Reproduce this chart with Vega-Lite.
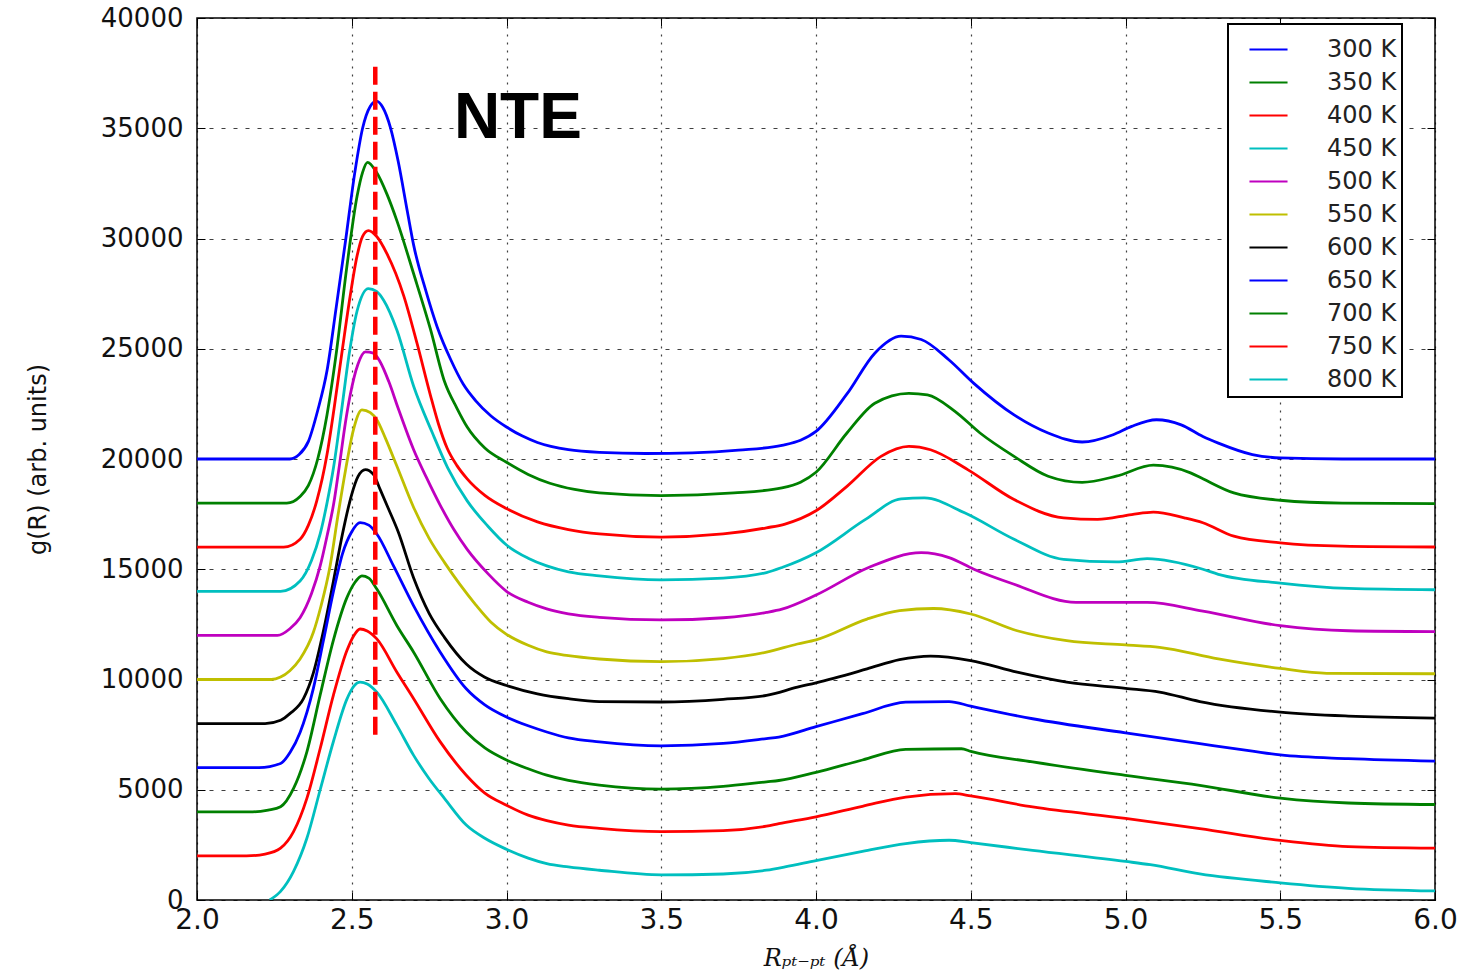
{
  "$schema": "https://vega.github.io/schema/vega-lite/v6.json",
  "width": 1238,
  "height": 882,
  "autosize": {"type": "none"},
  "padding": {"left": 197, "top": 18, "right": 32, "bottom": 77},
  "background": "white",
  "config": {
    "view": {"stroke": "black", "strokeWidth": 1.5},
    "font": "DejaVu Sans",
    "axis": {
      "labelFont": "DejaVu Sans",
      "labelFontSize": 26,
      "labelColor": "#111111",
      "labelFlush": false,
      "tickColor": "black",
      "tickSize": -8,
      "tickWidth": 1,
      "domain": false,
      "gridColor": "black",
      "gridOpacity": 0.75,
      "gridWidth": 1.2,
      "titleFontWeight": "normal",
      "titleColor": "#111111"
    },
    "legend": {
      "strokeColor": "black",
      "strokeWidth": 2,
      "fillColor": "white",
      "cornerRadius": 0
    }
  },
  "datasets": {
    "gr": [
      {"T":"300 K","R":2.0,"g":20000},{"T":"300 K","R":2.3,"g":20000},{"T":"300 K","R":2.33,"g":20200},{"T":"300 K","R":2.36,"g":20800},{"T":"300 K","R":2.39,"g":22200},{"T":"300 K","R":2.42,"g":24000},{"T":"300 K","R":2.45,"g":26900},{"T":"300 K","R":2.48,"g":29900},{"T":"300 K","R":2.51,"g":33000},{"T":"300 K","R":2.535,"g":35000},{"T":"300 K","R":2.56,"g":36000},{"T":"300 K","R":2.58,"g":36230},{"T":"300 K","R":2.6,"g":35950},{"T":"300 K","R":2.625,"g":35030},{"T":"300 K","R":2.65,"g":33500},{"T":"300 K","R":2.68,"g":31200},{"T":"300 K","R":2.7,"g":29700},{"T":"300 K","R":2.74,"g":27600},{"T":"300 K","R":2.776,"g":25990},{"T":"300 K","R":2.82,"g":24500},{"T":"300 K","R":2.86,"g":23400},{"T":"300 K","R":2.9,"g":22650},{"T":"300 K","R":2.95,"g":21950},{"T":"300 K","R":3.0,"g":21450},{"T":"300 K","R":3.05,"g":21050},{"T":"300 K","R":3.1,"g":20750},{"T":"300 K","R":3.2,"g":20420},{"T":"300 K","R":3.3,"g":20300},{"T":"300 K","R":3.45,"g":20250},{"T":"300 K","R":3.6,"g":20280},{"T":"300 K","R":3.75,"g":20400},{"T":"300 K","R":3.89,"g":20620},{"T":"300 K","R":3.95,"g":20850},{"T":"300 K","R":4.0,"g":21250},{"T":"300 K","R":4.1,"g":22950},{"T":"300 K","R":4.19,"g":24800},{"T":"300 K","R":4.275,"g":25570},{"T":"300 K","R":4.34,"g":25420},{"T":"300 K","R":4.43,"g":24490},{"T":"300 K","R":4.51,"g":23430},{"T":"300 K","R":4.64,"g":22000},{"T":"300 K","R":4.75,"g":21180},{"T":"300 K","R":4.86,"g":20770},{"T":"300 K","R":4.96,"g":21100},{"T":"300 K","R":5.02,"g":21480},{"T":"300 K","R":5.1,"g":21780},{"T":"300 K","R":5.18,"g":21550},{"T":"300 K","R":5.25,"g":21020},{"T":"300 K","R":5.3,"g":20720},{"T":"300 K","R":5.41,"g":20200},{"T":"300 K","R":5.5,"g":20050},{"T":"300 K","R":5.7,"g":20000},{"T":"300 K","R":6.0,"g":20000},

      {"T":"350 K","R":2.0,"g":18000},{"T":"350 K","R":2.29,"g":18000},{"T":"350 K","R":2.333,"g":18300},{"T":"350 K","R":2.36,"g":18800},{"T":"350 K","R":2.39,"g":20000},{"T":"350 K","R":2.42,"g":22000},{"T":"350 K","R":2.45,"g":24800},{"T":"350 K","R":2.484,"g":28700},{"T":"350 K","R":2.517,"g":31900},{"T":"350 K","R":2.535,"g":33000},{"T":"350 K","R":2.551,"g":33450},{"T":"350 K","R":2.58,"g":33000},{"T":"350 K","R":2.614,"g":32000},{"T":"350 K","R":2.646,"g":30800},{"T":"350 K","R":2.7,"g":28400},{"T":"350 K","R":2.754,"g":25900},{"T":"350 K","R":2.8,"g":23500},{"T":"350 K","R":2.84,"g":22300},{"T":"350 K","R":2.873,"g":21450},{"T":"350 K","R":2.93,"g":20500},{"T":"350 K","R":3.0,"g":19850},{"T":"350 K","R":3.07,"g":19300},{"T":"350 K","R":3.14,"g":18900},{"T":"350 K","R":3.22,"g":18620},{"T":"350 K","R":3.3,"g":18460},{"T":"350 K","R":3.5,"g":18340},{"T":"350 K","R":3.735,"g":18460},{"T":"350 K","R":3.89,"g":18690},{"T":"350 K","R":3.95,"g":18950},{"T":"350 K","R":4.0,"g":19400},{"T":"350 K","R":4.1,"g":21180},{"T":"350 K","R":4.19,"g":22530},{"T":"350 K","R":4.3,"g":22980},{"T":"350 K","R":4.36,"g":22910},{"T":"350 K","R":4.45,"g":22150},{"T":"350 K","R":4.53,"g":21180},{"T":"350 K","R":4.64,"g":20120},{"T":"350 K","R":4.75,"g":19220},{"T":"350 K","R":4.86,"g":18940},{"T":"350 K","R":4.97,"g":19220},{"T":"350 K","R":5.09,"g":19720},{"T":"350 K","R":5.21,"g":19370},{"T":"350 K","R":5.25,"g":19100},{"T":"350 K","R":5.35,"g":18460},{"T":"350 K","R":5.5,"g":18130},{"T":"350 K","R":5.7,"g":18000},{"T":"350 K","R":6.0,"g":17980},

      {"T":"400 K","R":2.0,"g":16000},{"T":"400 K","R":2.28,"g":16000},{"T":"400 K","R":2.333,"g":16360},{"T":"400 K","R":2.36,"g":17000},{"T":"400 K","R":2.387,"g":18100},{"T":"400 K","R":2.42,"g":20200},{"T":"400 K","R":2.443,"g":22300},{"T":"400 K","R":2.47,"g":25000},{"T":"400 K","R":2.495,"g":27400},{"T":"400 K","R":2.517,"g":29200},{"T":"400 K","R":2.535,"g":30100},{"T":"400 K","R":2.554,"g":30360},{"T":"400 K","R":2.58,"g":30100},{"T":"400 K","R":2.614,"g":29300},{"T":"400 K","R":2.668,"g":27400},{"T":"400 K","R":2.711,"g":25240},{"T":"400 K","R":2.754,"g":22900},{"T":"400 K","R":2.78,"g":21600},{"T":"400 K","R":2.808,"g":20500},{"T":"400 K","R":2.84,"g":19700},{"T":"400 K","R":2.873,"g":19100},{"T":"400 K","R":2.93,"g":18350},{"T":"400 K","R":3.0,"g":17750},{"T":"400 K","R":3.1,"g":17150},{"T":"400 K","R":3.2,"g":16800},{"T":"400 K","R":3.3,"g":16600},{"T":"400 K","R":3.5,"g":16460},{"T":"400 K","R":3.7,"g":16600},{"T":"400 K","R":3.84,"g":16880},{"T":"400 K","R":3.9,"g":17050},{"T":"400 K","R":4.0,"g":17650},{"T":"400 K","R":4.1,"g":18760},{"T":"400 K","R":4.21,"g":20120},{"T":"400 K","R":4.3,"g":20570},{"T":"400 K","R":4.37,"g":20420},{"T":"400 K","R":4.49,"g":19520},{"T":"400 K","R":4.64,"g":18160},{"T":"400 K","R":4.8,"g":17330},{"T":"400 K","R":4.91,"g":17260},{"T":"400 K","R":5.02,"g":17480},{"T":"400 K","R":5.09,"g":17590},{"T":"400 K","R":5.19,"g":17330},{"T":"400 K","R":5.25,"g":17110},{"T":"400 K","R":5.35,"g":16500},{"T":"400 K","R":5.5,"g":16200},{"T":"400 K","R":5.7,"g":16050},{"T":"400 K","R":6.0,"g":16010},

      {"T":"450 K","R":2.0,"g":14000},{"T":"450 K","R":2.27,"g":14000},{"T":"450 K","R":2.333,"g":14470},{"T":"450 K","R":2.37,"g":15400},{"T":"450 K","R":2.398,"g":16600},{"T":"450 K","R":2.42,"g":18000},{"T":"450 K","R":2.441,"g":19600},{"T":"450 K","R":2.468,"g":22300},{"T":"450 K","R":2.49,"g":24600},{"T":"450 K","R":2.517,"g":26700},{"T":"450 K","R":2.554,"g":27730},{"T":"450 K","R":2.58,"g":27600},{"T":"450 K","R":2.603,"g":27200},{"T":"450 K","R":2.646,"g":25840},{"T":"450 K","R":2.7,"g":23300},{"T":"450 K","R":2.76,"g":21200},{"T":"450 K","R":2.81,"g":19600},{"T":"450 K","R":2.873,"g":18100},{"T":"450 K","R":2.94,"g":16950},{"T":"450 K","R":3.0,"g":16100},{"T":"450 K","R":3.07,"g":15500},{"T":"450 K","R":3.13,"g":15150},{"T":"450 K","R":3.2,"g":14880},{"T":"450 K","R":3.3,"g":14700},{"T":"450 K","R":3.5,"g":14520},{"T":"450 K","R":3.7,"g":14600},{"T":"450 K","R":3.84,"g":14850},{"T":"450 K","R":3.89,"g":15080},{"T":"450 K","R":4.0,"g":15750},{"T":"450 K","R":4.16,"g":17260},{"T":"450 K","R":4.275,"g":18190},{"T":"450 K","R":4.35,"g":18240},{"T":"450 K","R":4.48,"g":17560},{"T":"450 K","R":4.64,"g":16360},{"T":"450 K","R":4.8,"g":15450},{"T":"450 K","R":4.97,"g":15330},{"T":"450 K","R":5.07,"g":15480},{"T":"450 K","R":5.25,"g":15000},{"T":"450 K","R":5.3,"g":14770},{"T":"450 K","R":5.5,"g":14370},{"T":"450 K","R":5.72,"g":14130},{"T":"450 K","R":6.0,"g":14070},

      {"T":"500 K","R":2.0,"g":12000},{"T":"500 K","R":2.26,"g":12000},{"T":"500 K","R":2.3,"g":12300},{"T":"500 K","R":2.333,"g":12800},{"T":"500 K","R":2.37,"g":13900},{"T":"500 K","R":2.398,"g":15150},{"T":"500 K","R":2.42,"g":16500},{"T":"500 K","R":2.442,"g":18000},{"T":"500 K","R":2.46,"g":19700},{"T":"500 K","R":2.479,"g":21600},{"T":"500 K","R":2.495,"g":22900},{"T":"500 K","R":2.52,"g":24300},{"T":"500 K","R":2.544,"g":24860},{"T":"500 K","R":2.57,"g":24800},{"T":"500 K","R":2.592,"g":24400},{"T":"500 K","R":2.62,"g":23500},{"T":"500 K","R":2.65,"g":22300},{"T":"500 K","R":2.7,"g":20420},{"T":"500 K","R":2.74,"g":19200},{"T":"500 K","R":2.786,"g":17900},{"T":"500 K","R":2.83,"g":16800},{"T":"500 K","R":2.873,"g":15900},{"T":"500 K","R":2.94,"g":14800},{"T":"500 K","R":3.0,"g":14000},{"T":"500 K","R":3.07,"g":13500},{"T":"500 K","R":3.13,"g":13200},{"T":"500 K","R":3.2,"g":12980},{"T":"500 K","R":3.3,"g":12820},{"T":"500 K","R":3.5,"g":12700},{"T":"500 K","R":3.7,"g":12800},{"T":"500 K","R":3.84,"g":13040},{"T":"500 K","R":3.89,"g":13190},{"T":"500 K","R":4.0,"g":13830},{"T":"500 K","R":4.17,"g":15080},{"T":"500 K","R":4.34,"g":15750},{"T":"500 K","R":4.43,"g":15530},{"T":"500 K","R":4.51,"g":15000},{"T":"500 K","R":4.64,"g":14320},{"T":"500 K","R":4.84,"g":13500},{"T":"500 K","R":5.07,"g":13500},{"T":"500 K","R":5.25,"g":13100},{"T":"500 K","R":5.5,"g":12440},{"T":"500 K","R":5.72,"g":12210},{"T":"500 K","R":6.0,"g":12170},

      {"T":"550 K","R":2.0,"g":10000},{"T":"550 K","R":2.24,"g":10000},{"T":"550 K","R":2.27,"g":10110},{"T":"550 K","R":2.3,"g":10400},{"T":"550 K","R":2.333,"g":10930},{"T":"550 K","R":2.376,"g":12140},{"T":"550 K","R":2.4,"g":13300},{"T":"550 K","R":2.43,"g":15150},{"T":"550 K","R":2.455,"g":17400},{"T":"550 K","R":2.48,"g":19500},{"T":"550 K","R":2.505,"g":21300},{"T":"550 K","R":2.533,"g":22230},{"T":"550 K","R":2.56,"g":22100},{"T":"550 K","R":2.581,"g":21780},{"T":"550 K","R":2.61,"g":20900},{"T":"550 K","R":2.646,"g":19670},{"T":"550 K","R":2.7,"g":17800},{"T":"550 K","R":2.75,"g":16400},{"T":"550 K","R":2.8,"g":15300},{"T":"550 K","R":2.85,"g":14300},{"T":"550 K","R":2.9,"g":13400},{"T":"550 K","R":2.95,"g":12600},{"T":"550 K","R":3.0,"g":12050},{"T":"550 K","R":3.07,"g":11550},{"T":"550 K","R":3.13,"g":11250},{"T":"550 K","R":3.2,"g":11080},{"T":"550 K","R":3.3,"g":10930},{"T":"550 K","R":3.5,"g":10810},{"T":"550 K","R":3.7,"g":10950},{"T":"550 K","R":3.84,"g":11240},{"T":"550 K","R":3.94,"g":11610},{"T":"550 K","R":4.0,"g":11800},{"T":"550 K","R":4.165,"g":12740},{"T":"550 K","R":4.27,"g":13120},{"T":"550 K","R":4.38,"g":13220},{"T":"550 K","R":4.5,"g":12970},{"T":"550 K","R":4.65,"g":12210},{"T":"550 K","R":4.81,"g":11760},{"T":"550 K","R":5.0,"g":11570},{"T":"550 K","R":5.11,"g":11460},{"T":"550 K","R":5.3,"g":10930},{"T":"550 K","R":5.5,"g":10500},{"T":"550 K","R":5.65,"g":10280},{"T":"550 K","R":6.0,"g":10260},

      {"T":"600 K","R":2.0,"g":8000},{"T":"600 K","R":2.22,"g":8000},{"T":"600 K","R":2.27,"g":8150},{"T":"600 K","R":2.3,"g":8450},{"T":"600 K","R":2.344,"g":9130},{"T":"600 K","R":2.376,"g":10300},{"T":"600 K","R":2.41,"g":12300},{"T":"600 K","R":2.44,"g":14400},{"T":"600 K","R":2.47,"g":16600},{"T":"600 K","R":2.5,"g":18400},{"T":"600 K","R":2.52,"g":19200},{"T":"600 K","R":2.544,"g":19520},{"T":"600 K","R":2.57,"g":19300},{"T":"600 K","R":2.592,"g":18610},{"T":"600 K","R":2.62,"g":17700},{"T":"600 K","R":2.65,"g":16700},{"T":"600 K","R":2.7,"g":14600},{"T":"600 K","R":2.75,"g":13000},{"T":"600 K","R":2.8,"g":11900},{"T":"600 K","R":2.87,"g":10700},{"T":"600 K","R":2.93,"g":10100},{"T":"600 K","R":3.0,"g":9730},{"T":"600 K","R":3.1,"g":9350},{"T":"600 K","R":3.2,"g":9130},{"T":"600 K","R":3.3,"g":9000},{"T":"600 K","R":3.5,"g":8980},{"T":"600 K","R":3.7,"g":9100},{"T":"600 K","R":3.84,"g":9280},{"T":"600 K","R":3.94,"g":9650},{"T":"600 K","R":4.0,"g":9850},{"T":"600 K","R":4.165,"g":10480},{"T":"600 K","R":4.27,"g":10900},{"T":"600 K","R":4.37,"g":11060},{"T":"600 K","R":4.5,"g":10860},{"T":"600 K","R":4.65,"g":10330},{"T":"600 K","R":4.81,"g":9880},{"T":"600 K","R":5.0,"g":9600},{"T":"600 K","R":5.11,"g":9430},{"T":"600 K","R":5.24,"g":9000},{"T":"600 K","R":5.5,"g":8520},{"T":"600 K","R":5.72,"g":8340},{"T":"600 K","R":6.0,"g":8250},

      {"T":"650 K","R":2.0,"g":6000},{"T":"650 K","R":2.2,"g":6000},{"T":"650 K","R":2.27,"g":6190},{"T":"650 K","R":2.301,"g":6700},{"T":"650 K","R":2.333,"g":7600},{"T":"650 K","R":2.376,"g":9600},{"T":"650 K","R":2.409,"g":11800},{"T":"650 K","R":2.441,"g":14000},{"T":"650 K","R":2.47,"g":15700},{"T":"650 K","R":2.5,"g":16700},{"T":"650 K","R":2.527,"g":17110},{"T":"650 K","R":2.555,"g":17000},{"T":"650 K","R":2.581,"g":16600},{"T":"650 K","R":2.635,"g":15150},{"T":"650 K","R":2.7,"g":13340},{"T":"650 K","R":2.786,"g":11240},{"T":"650 K","R":2.87,"g":9580},{"T":"650 K","R":2.93,"g":8850},{"T":"650 K","R":3.0,"g":8300},{"T":"650 K","R":3.07,"g":7900},{"T":"650 K","R":3.13,"g":7620},{"T":"650 K","R":3.2,"g":7350},{"T":"650 K","R":3.3,"g":7170},{"T":"650 K","R":3.5,"g":6990},{"T":"650 K","R":3.7,"g":7100},{"T":"650 K","R":3.84,"g":7320},{"T":"650 K","R":3.88,"g":7390},{"T":"650 K","R":4.0,"g":7860},{"T":"650 K","R":4.15,"g":8450},{"T":"650 K","R":4.29,"g":8970},{"T":"650 K","R":4.43,"g":9000},{"T":"650 K","R":4.5,"g":8790},{"T":"650 K","R":4.7,"g":8220},{"T":"650 K","R":5.0,"g":7580},{"T":"650 K","R":5.24,"g":7090},{"T":"650 K","R":5.41,"g":6750},{"T":"650 K","R":5.5,"g":6580},{"T":"650 K","R":5.72,"g":6410},{"T":"650 K","R":6.0,"g":6300},

      {"T":"700 K","R":2.0,"g":4000},{"T":"700 K","R":2.18,"g":4000},{"T":"700 K","R":2.23,"g":4080},{"T":"700 K","R":2.27,"g":4230},{"T":"700 K","R":2.312,"g":5060},{"T":"700 K","R":2.355,"g":6720},{"T":"700 K","R":2.398,"g":9300},{"T":"700 K","R":2.441,"g":11800},{"T":"700 K","R":2.484,"g":13700},{"T":"700 K","R":2.51,"g":14400},{"T":"700 K","R":2.533,"g":14700},{"T":"700 K","R":2.555,"g":14600},{"T":"700 K","R":2.581,"g":14100},{"T":"700 K","R":2.646,"g":12440},{"T":"700 K","R":2.7,"g":11240},{"T":"700 K","R":2.786,"g":9130},{"T":"700 K","R":2.87,"g":7620},{"T":"700 K","R":2.93,"g":6900},{"T":"700 K","R":3.0,"g":6350},{"T":"700 K","R":3.07,"g":5950},{"T":"700 K","R":3.13,"g":5660},{"T":"700 K","R":3.2,"g":5420},{"T":"700 K","R":3.3,"g":5210},{"T":"700 K","R":3.5,"g":5030},{"T":"700 K","R":3.7,"g":5150},{"T":"700 K","R":3.84,"g":5360},{"T":"700 K","R":3.88,"g":5420},{"T":"700 K","R":4.0,"g":5790},{"T":"700 K","R":4.15,"g":6350},{"T":"700 K","R":4.29,"g":6830},{"T":"700 K","R":4.47,"g":6860},{"T":"700 K","R":4.5,"g":6740},{"T":"700 K","R":4.7,"g":6260},{"T":"700 K","R":5.0,"g":5650},{"T":"700 K","R":5.24,"g":5200},{"T":"700 K","R":5.5,"g":4620},{"T":"700 K","R":5.72,"g":4400},{"T":"700 K","R":6.0,"g":4330},

      {"T":"750 K","R":2.0,"g":2000},{"T":"750 K","R":2.16,"g":2000},{"T":"750 K","R":2.22,"g":2080},{"T":"750 K","R":2.27,"g":2350},{"T":"750 K","R":2.312,"g":3100},{"T":"750 K","R":2.355,"g":4610},{"T":"750 K","R":2.398,"g":6870},{"T":"750 K","R":2.441,"g":9300},{"T":"750 K","R":2.484,"g":11300},{"T":"750 K","R":2.507,"g":12000},{"T":"750 K","R":2.527,"g":12290},{"T":"750 K","R":2.55,"g":12200},{"T":"750 K","R":2.581,"g":11840},{"T":"750 K","R":2.646,"g":10330},{"T":"750 K","R":2.7,"g":9130},{"T":"750 K","R":2.786,"g":7170},{"T":"750 K","R":2.87,"g":5660},{"T":"750 K","R":2.93,"g":4850},{"T":"750 K","R":3.0,"g":4300},{"T":"750 K","R":3.07,"g":3850},{"T":"750 K","R":3.13,"g":3600},{"T":"750 K","R":3.2,"g":3400},{"T":"750 K","R":3.3,"g":3250},{"T":"750 K","R":3.5,"g":3100},{"T":"750 K","R":3.7,"g":3150},{"T":"750 K","R":3.84,"g":3350},{"T":"750 K","R":3.88,"g":3460},{"T":"750 K","R":4.0,"g":3770},{"T":"750 K","R":4.15,"g":4250},{"T":"750 K","R":4.29,"g":4670},{"T":"750 K","R":4.45,"g":4820},{"T":"750 K","R":4.5,"g":4720},{"T":"750 K","R":4.7,"g":4220},{"T":"750 K","R":5.0,"g":3700},{"T":"750 K","R":5.24,"g":3240},{"T":"750 K","R":5.5,"g":2700},{"T":"750 K","R":5.72,"g":2420},{"T":"750 K","R":6.0,"g":2350},

      {"T":"800 K","R":2.235,"g":0},{"T":"800 K","R":2.27,"g":390},{"T":"800 K","R":2.312,"g":1300},{"T":"800 K","R":2.355,"g":2800},{"T":"800 K","R":2.398,"g":5000},{"T":"800 K","R":2.441,"g":7200},{"T":"800 K","R":2.484,"g":9100},{"T":"800 K","R":2.507,"g":9700},{"T":"800 K","R":2.527,"g":9880},{"T":"800 K","R":2.55,"g":9800},{"T":"800 K","R":2.581,"g":9430},{"T":"800 K","R":2.646,"g":7920},{"T":"800 K","R":2.7,"g":6560},{"T":"800 K","R":2.75,"g":5500},{"T":"800 K","R":2.8,"g":4600},{"T":"800 K","R":2.87,"g":3400},{"T":"800 K","R":2.93,"g":2800},{"T":"800 K","R":3.0,"g":2300},{"T":"800 K","R":3.07,"g":1900},{"T":"800 K","R":3.13,"g":1650},{"T":"800 K","R":3.2,"g":1500},{"T":"800 K","R":3.3,"g":1350},{"T":"800 K","R":3.5,"g":1140},{"T":"800 K","R":3.7,"g":1180},{"T":"800 K","R":3.84,"g":1350},{"T":"800 K","R":3.9,"g":1500},{"T":"800 K","R":4.0,"g":1790},{"T":"800 K","R":4.15,"g":2200},{"T":"800 K","R":4.29,"g":2560},{"T":"800 K","R":4.43,"g":2710},{"T":"800 K","R":4.5,"g":2600},{"T":"800 K","R":4.7,"g":2250},{"T":"800 K","R":5.0,"g":1750},{"T":"800 K","R":5.08,"g":1600},{"T":"800 K","R":5.24,"g":1180},{"T":"800 K","R":5.5,"g":780},{"T":"800 K","R":5.72,"g":530},{"T":"800 K","R":6.0,"g":410}
    ]
  },
  "layer": [
    {
      "data": {"name": "gr"},
      "mark": {"type": "line", "strokeWidth": 2.8, "interpolate": "monotone", "clip": true},
      "encoding": {
        "x": {
          "field": "R", "type": "quantitative",
          "scale": {"domain": [2, 6], "nice": false, "zero": false},
          "axis": {
            "orient": "bottom",
            "values": [2, 2.5, 3, 3.5, 4, 4.5, 5, 5.5, 6],
            "format": ".1f",
            "labelFontSize": 28,
            "labelPadding": 14,
            "grid": true,
            "gridDash": [2, 6],
            "title": "Rₚₜ₋ₚₜ (Å)",
            "titleFont": "DejaVu Serif",
            "titleFontStyle": "italic",
            "titleFontSize": 24,
            "titlePadding": 12
          }
        },
        "y": {
          "field": "g", "type": "quantitative",
          "scale": {"domain": [0, 40000], "nice": false},
          "axis": {
            "orient": "left",
            "values": [0, 5000, 10000, 15000, 20000, 25000, 30000, 35000, 40000],
            "format": "d",
            "labelPadding": 22,
            "grid": true,
            "gridDash": [4, 8],
            "title": "g(R) (arb. units)",
            "titleFont": "DejaVu Sans",
            "titleFontSize": 24,
            "titlePadding": 50
          }
        },
        "color": {
          "field": "T", "type": "nominal",
          "scale": {
            "domain": ["300 K","350 K","400 K","450 K","500 K","550 K","600 K","650 K","700 K","750 K","800 K"],
            "range": ["#0000ff","#008000","#ff0000","#00bfbf","#bf00bf","#bfbf00","#000000","#0000ff","#008000","#ff0000","#00bfbf"]
          },
          "legend": {
            "title": null,
            "orient": "none",
            "legendX": 1031,
            "legendY": 6,
            "symbolType": "stroke",
            "symbolSize": 1450,
            "symbolStrokeWidth": 2,
            "symbolOffset": 15,
            "labelFont": "DejaVu Sans",
            "labelFontSize": 24,
            "labelColor": "#222222",
            "labelOffset": 38,
            "labelExpr": "datum.label + '\u00a0\u00a0'",
            "rowPadding": 0,
            "padding": 5
          }
        }
      }
    },
    {
      "data": {"values": [{}]},
      "mark": {"type": "rule", "color": "#ff0000", "strokeWidth": 4.5, "strokeDash": [18, 7]},
      "encoding": {
        "x": {"datum": 2.576, "type": "quantitative", "axis": null},
        "y": {"datum": 7500, "type": "quantitative", "axis": null},
        "y2": {"datum": 38000}
      }
    },
    {
      "data": {"values": [{}]},
      "mark": {"type": "text", "text": "NTE", "font": "Liberation Sans", "fontSize": 64, "fontWeight": "bold", "align": "left", "baseline": "alphabetic", "color": "black"},
      "encoding": {
        "x": {"datum": 2.83, "type": "quantitative", "axis": {"orient": "top", "values": [2, 2.5, 3, 3.5, 4, 4.5, 5, 5.5, 6], "labels": false, "grid": false, "title": null}},
        "y": {"datum": 34560, "type": "quantitative", "axis": {"orient": "right", "values": [0, 5000, 10000, 15000, 20000, 25000, 30000, 35000, 40000], "labels": false, "grid": false, "title": null}}
      }
    }
  ],
  "resolve": {"axis": {"x": "independent", "y": "independent"}}
}
